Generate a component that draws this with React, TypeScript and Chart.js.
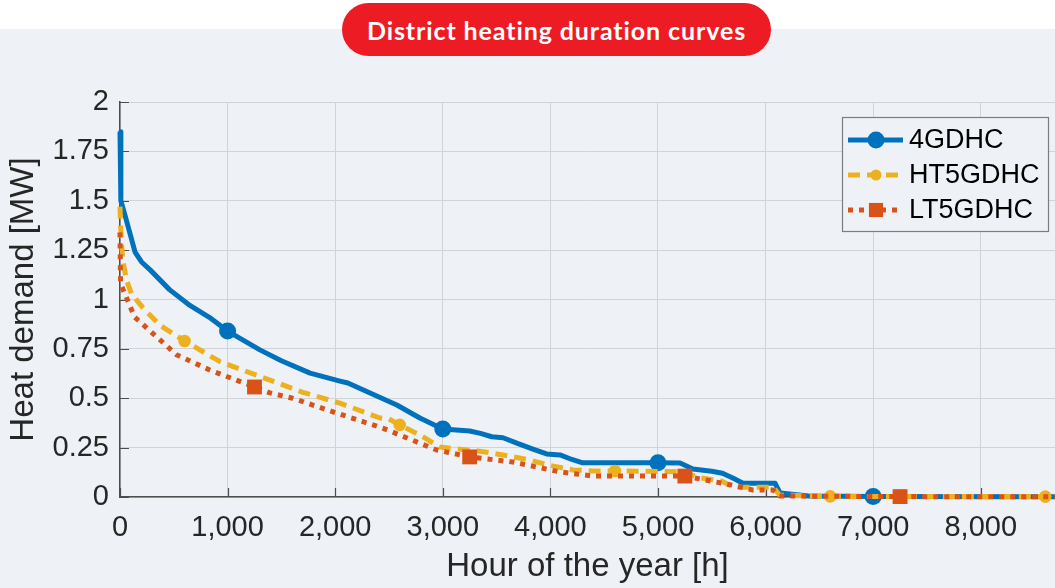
import React, { useEffect, useRef } from "react";
import { Chart, registerables } from "chart.js";

Chart.register(...registerables);

// ---------- data ----------
const chartTitle = "District heating duration curves";
const xAxisTitle = "Hour of the year [h]";
const yAxisTitle = "Heat demand [MW]";
const seriesNames = ["4GDHC", "HT5GDHC", "LT5GDHC"];

const hours4G = [0, 8, 45, 90, 140, 200, 280, 460, 650, 830, 1000, 1300, 1500, 1767, 2044, 2118, 2350, 2573, 2787, 3000, 3250, 3350, 3455, 3560, 3700, 3850, 3965, 4090, 4200, 4300, 5000, 5205, 5325, 5500, 5600, 5700, 5790, 6088, 6135, 6400, 7000, 8760];
const demand4G = [1.85, 1.5, 1.43, 1.34, 1.24, 1.19, 1.15, 1.05, 0.97, 0.91, 0.84, 0.745, 0.69, 0.627, 0.587, 0.577, 0.52, 0.466, 0.4, 0.344, 0.334, 0.322, 0.305, 0.3, 0.27, 0.24, 0.218, 0.213, 0.19, 0.173, 0.173, 0.172, 0.142, 0.13, 0.12, 0.095, 0.07, 0.07, 0.02, 0.005, 0.002, 0.001];

const hoursHT = [0, 5, 15, 25, 60, 105, 210, 370, 600, 930, 1393, 1700, 2044, 2415, 2500, 2600, 2800, 2972, 3050, 3345, 3560, 3810, 3995, 4210, 4400, 4600, 5250, 5360, 5595, 5700, 6070, 6130, 6600, 8600, 8760];
const demandHT = [1.47, 1.38, 1.28, 1.2, 1.1, 1.03, 0.96, 0.87, 0.79, 0.685, 0.592, 0.53, 0.475, 0.4, 0.395, 0.365, 0.31, 0.253, 0.248, 0.232, 0.213, 0.187, 0.16, 0.137, 0.132, 0.132, 0.128, 0.1, 0.08, 0.05, 0.05, 0.01, 0.003, 0.002, 0.002];

const hoursLT = [0, 5, 45, 90, 137, 210, 526, 834, 1250, 1393, 1605, 2013, 2441, 2944, 3250, 3652, 4090, 4395, 5250, 5500, 5690, 5885, 6070, 6130, 7250, 8760];
const demandLT = [1.34, 1.08, 1.03, 0.97, 0.91, 0.875, 0.72, 0.643, 0.557, 0.527, 0.5, 0.425, 0.349, 0.238, 0.203, 0.177, 0.127, 0.106, 0.106, 0.08, 0.06, 0.035, 0.035, 0.005, 0.002, 0.001];

const markerHours4G = [1000, 3000, 5000, 7000];
const markerHoursHT = [600, 2600, 4600, 6600, 8600];
const markerHoursLT = [1250, 3250, 5250, 7250];

const xTickValues = [0, 1000, 2000, 3000, 4000, 5000, 6000, 7000, 8000];
const xTickLabels = ["0", "1,000", "2,000", "3,000", "4,000", "5,000", "6,000", "7,000", "8,000"];
const yTickValues = [0, 0.25, 0.5, 0.75, 1, 1.25, 1.5, 1.75, 2];
const yTickLabels = ["0", "0.25", "0.5", "0.75", "1", "1.25", "1.5", "1.75", "2"];
const xMin = 0;
const xMax = 8690;
const yMin = 0;
const yMax = 2;

// ---------- styles ----------
const BG = "#eef2f6";
const AXIS = "#4d4d4d";
const GRID = "#d0d4d8";
const TEXT = "#262626";
const FONT = "'Liberation Sans', Arial, Helvetica, sans-serif";

const toPoints = (xs: number[], ys: number[]) => xs.map((x, i) => ({ x, y: ys[i] }));

const innerTicks = {
  id: "innerTicks",
  beforeDatasetsDraw(chart: any) {
    const { ctx, chartArea, scales } = chart;
    ctx.save();
    ctx.strokeStyle = AXIS;
    ctx.lineWidth = 1.2;
    ctx.beginPath();
    scales.y.ticks.forEach((t: any) => {
      const y = Math.round(scales.y.getPixelForValue(t.value)) + 0.5;
      ctx.moveTo(chartArea.left, y);
      ctx.lineTo(chartArea.left + 9, y);
    });
    scales.x.ticks.forEach((t: any) => {
      const x = Math.round(scales.x.getPixelForValue(t.value)) + 0.5;
      ctx.moveTo(x, chartArea.bottom);
      ctx.lineTo(x, chartArea.bottom - 9);
    });
    ctx.stroke();
    ctx.restore();
  },
};

function drawMarker(ctx: CanvasRenderingContext2D, style: string, x: number, y: number, r: number, color: string) {
  ctx.fillStyle = color;
  ctx.beginPath();
  if (style === "rect") {
    const s = r * Math.SQRT1_2;
    ctx.rect(x - s, y - s, 2 * s, 2 * s);
  } else {
    ctx.arc(x, y, r, 0, Math.PI * 2);
  }
  ctx.fill();
}

const boxLegend = {
  id: "boxLegend",
  afterDatasetsDraw(chart: any) {
    const { ctx, chartArea } = chart;
    const bw = 206;
    const bh = 114;
    const bx = chartArea.right - 213;
    const by = chartArea.top + 15;
    ctx.save();
    ctx.fillStyle = BG;
    ctx.fillRect(bx, by, bw, bh);
    ctx.strokeStyle = "#7d7d7d";
    ctx.lineWidth = 1.2;
    ctx.strokeRect(bx + 0.5, by + 0.5, bw, bh);
    const dsList = chart.data.datasets;
    const order = [0, 1, 2];
    order.forEach((i: number, row: number) => {
      const ds = dsList[i];
      const y = by + 23 + row * 35;
      ctx.setLineDash(ds.borderDash || []);
      ctx.lineCap = "butt";
      ctx.strokeStyle = ds.borderColor;
      ctx.lineWidth = ds.borderWidth;
      ctx.beginPath();
      ctx.moveTo(bx + 6, y);
      ctx.lineTo(bx + 61, y);
      ctx.stroke();
      ctx.setLineDash([]);
      drawMarker(ctx, ds.pointStyle, bx + 34, y, ds.legendMarker, ds.borderColor);
      ctx.fillStyle = "#000";
      ctx.font = `27px ${FONT}`;
      ctx.textBaseline = "middle";
      ctx.textAlign = "left";
      ctx.fillText(ds.label, bx + 67, y + 1);
    });
    ctx.restore();
  },
};

export default function App() {
  const ref = useRef<HTMLCanvasElement | null>(null);

  useEffect(() => {
    if (!ref.current) return;
    const mk = (hours: number[]) => (c: any) => {
      const raw = c.raw;
      return raw && hours.includes(raw.x) ? c.dataset.markerSize : 0;
    };
    const chart = new Chart(ref.current, {
      type: "line",
      data: {
        datasets: [
          {
            label: seriesNames[0],
            data: toPoints(hours4G, demand4G),
            borderColor: "#0072BD",
            backgroundColor: "#0072BD",
            borderWidth: 5,
            pointStyle: "circle",
            markerSize: 8.5,
            legendMarker: 8.5,
            pointRadius: mk(markerHours4G),
            pointBackgroundColor: "#0072BD",
            pointBorderWidth: 0,
            order: 3,
            clip: false,
          } as any,
          {
            label: seriesNames[1],
            data: toPoints(hoursHT, demandHT),
            borderColor: "#EDB120",
            backgroundColor: "#EDB120",
            borderWidth: 5,
            borderDash: [12, 7],
            pointStyle: "circle",
            markerSize: 6.3,
            legendMarker: 5.5,
            pointRadius: mk(markerHoursHT),
            pointBackgroundColor: "#EDB120",
            pointBorderWidth: 0,
            order: 2,
            clip: false,
          } as any,
          {
            label: seriesNames[2],
            data: toPoints(hoursLT, demandLT),
            borderColor: "#D95319",
            backgroundColor: "#D95319",
            borderWidth: 5,
            borderDash: [5, 6],
            pointStyle: "rect",
            markerSize: 10.5,
            legendMarker: 10,
            pointRadius: mk(markerHoursLT),
            pointBackgroundColor: "#D95319",
            pointBorderWidth: 0,
            order: 1,
            clip: false,
          } as any,
        ],
      },
      options: {
        responsive: false,
        animation: false,
        events: [],
        layout: { padding: { top: 102, right: 0, left: 0, bottom: 0 } },
        elements: { line: { tension: 0, borderCapStyle: "butt", borderJoinStyle: "round" } },
        plugins: { legend: { display: false }, tooltip: { enabled: false }, title: { display: false } },
        scales: {
          x: {
            type: "linear",
            min: xMin,
            max: xMax,
            afterBuildTicks: (s: any) => {
              s.ticks = xTickValues.map((v) => ({ value: v }));
            },
            afterFit: (s: any) => {
              s.height = 91;
            },
            ticks: {
              autoSkip: false,
              maxRotation: 0,
              padding: 14,
              color: TEXT,
              font: { family: FONT, size: 29 },
              callback: (_v: any, i: number) => xTickLabels[i],
            },
            grid: { color: GRID, lineWidth: 1, drawTicks: false },
            border: { color: AXIS, width: 1.5 },
            title: {
              display: true,
              text: xAxisTitle,
              color: TEXT,
              font: { family: FONT, size: 33 },
              padding: { top: 0, bottom: 1 },
            },
          },
          y: {
            type: "linear",
            min: yMin,
            max: yMax,
            afterBuildTicks: (s: any) => {
              s.ticks = yTickValues.map((v) => ({ value: v }));
            },
            afterFit: (s: any) => {
              s.width = 120;
            },
            ticks: {
              padding: 11,
              color: TEXT,
              font: { family: FONT, size: 29 },
              callback: (_v: any, i: number) => yTickLabels[i],
            },
            grid: { color: GRID, lineWidth: 1, drawTicks: false },
            border: { color: AXIS, width: 1.5 },
            title: {
              display: true,
              text: yAxisTitle,
              color: TEXT,
              font: { family: FONT, size: 33 },
              padding: { top: 4, bottom: 0 },
            },
          },
        },
      },
      plugins: [innerTicks, boxLegend],
    } as any);
    return () => chart.destroy();
  }, []);

  return (
    <div
      style={{
        position: "absolute",
        left: 0,
        top: 0,
        width: 1055,
        height: 588,
        background: `linear-gradient(#ffffff 0px, #ffffff 29px, ${BG} 29px, ${BG} 100%)`,
        overflow: "hidden",
      }}
    >
      <canvas ref={ref} width={1055} height={588} style={{ position: "absolute", left: 0, top: 0 }} />
      <div
        style={{
          position: "absolute",
          left: 342,
          top: 3,
          width: 429,
          height: 53,
          borderRadius: 27,
          background: "#ed1c24",
          color: "#ffffff",
          display: "flex",
          alignItems: "center",
          justifyContent: "center",
          fontFamily: "Lato, 'Open Sans', sans-serif",
          fontWeight: 700,
          fontSize: 25,
          letterSpacing: 0.9,
          whiteSpace: "nowrap",
        }}
      >
        {chartTitle}
      </div>
    </div>
  );
}
